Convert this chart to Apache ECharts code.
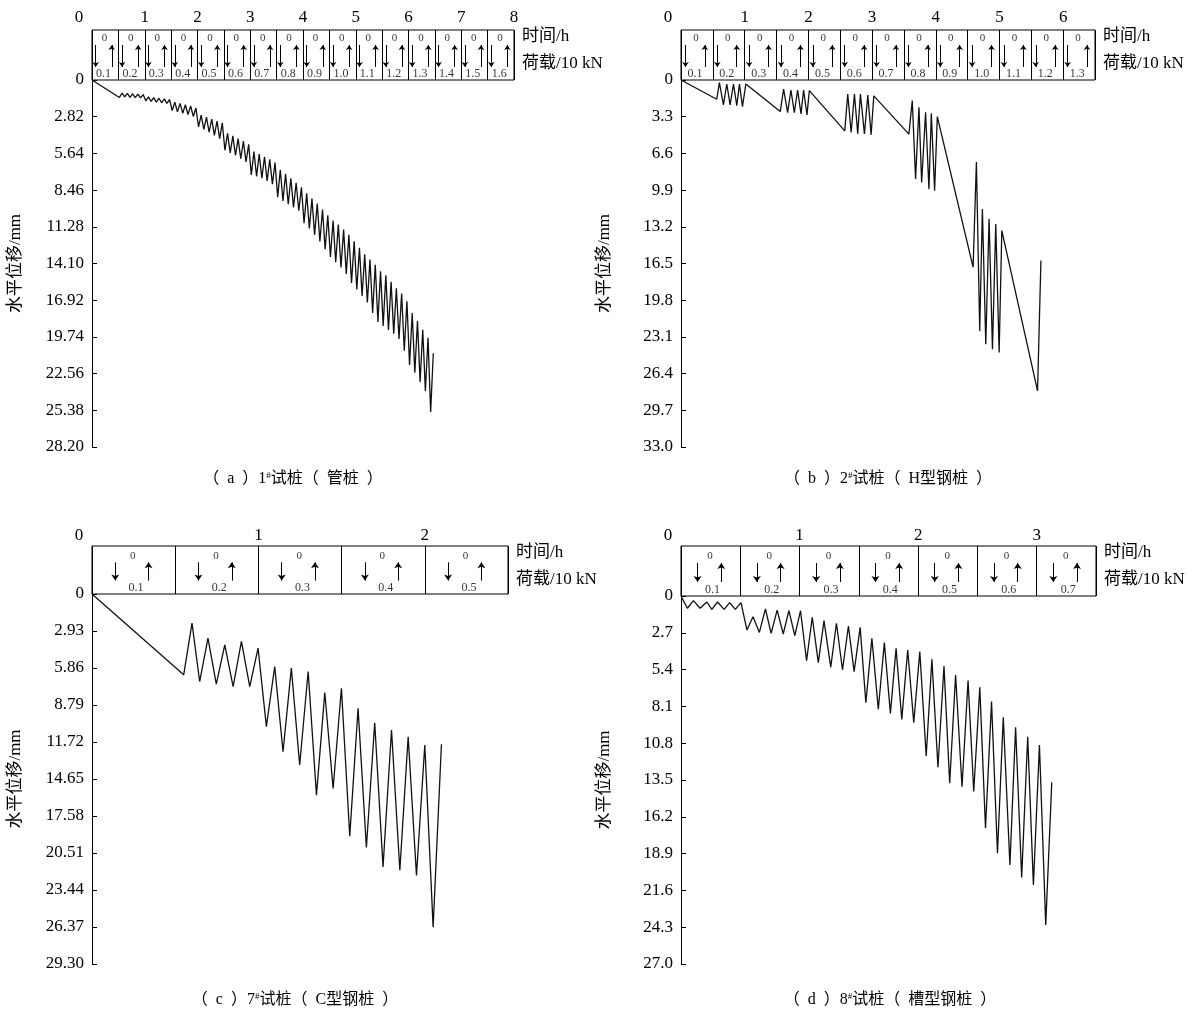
<!DOCTYPE html>
<html>
<head>
<meta charset="utf-8">
<script src="https://cdn.jsdelivr.net/npm/echarts@6/dist/echarts.min.js"></script>
<style>
html, body { margin: 0; padding: 0; background: #fff; }
#chart { width: 1204px; height: 1016px; }
</style>
</head>
<body>
<div id="chart"></div>
<script>
// (a) 1# 管桩
var timeA = [0,
    0.52, 0.57, 0.62, 0.67, 0.72, 0.77, 0.82, 0.87, 0.92, 0.97,
    1.02, 1.07, 1.12, 1.17, 1.22, 1.27, 1.32, 1.37, 1.42, 1.47,
    1.52, 1.57, 1.62, 1.67, 1.72, 1.77, 1.82, 1.87, 1.92, 1.97,
    2.02, 2.07, 2.12, 2.17, 2.22, 2.27, 2.32, 2.37, 2.42, 2.47,
    2.52, 2.57, 2.62, 2.67, 2.72, 2.77, 2.82, 2.87, 2.92, 2.97,
    3.02, 3.07, 3.12, 3.17, 3.22, 3.27, 3.32, 3.37, 3.42, 3.47,
    3.52, 3.57, 3.62, 3.67, 3.72, 3.77, 3.82, 3.87, 3.92, 3.97,
    4.02, 4.07, 4.12, 4.17, 4.22, 4.27, 4.32, 4.37, 4.42, 4.47,
    4.52, 4.57, 4.62, 4.67, 4.72, 4.77, 4.82, 4.87, 4.92, 4.97,
    5.02, 5.07, 5.12, 5.17, 5.22, 5.27, 5.32, 5.37, 5.42, 5.47,
    5.52, 5.57, 5.62, 5.67, 5.72, 5.77, 5.82, 5.87, 5.92, 5.97,
    6.02, 6.07, 6.12, 6.17, 6.22, 6.27, 6.32, 6.37, 6.42, 6.47];
var dispA = [0,
    1.34, 1.00, 1.30, 1.03, 1.33, 1.06, 1.36, 1.09, 1.38, 1.12,
    1.60, 1.30, 1.65, 1.35, 1.70, 1.40, 1.75, 1.45, 1.80, 1.50,
    2.35, 1.70, 2.45, 1.80, 2.55, 1.90, 2.65, 2.00, 2.80, 2.15,
    3.60, 2.70, 3.80, 2.85, 4.00, 3.00, 4.25, 3.15, 4.50, 3.30,
    5.40, 4.10, 5.60, 4.30, 5.80, 4.50, 6.05, 4.70, 6.30, 4.95,
    7.30, 5.50, 7.40, 5.70, 7.55, 5.90, 7.75, 6.10, 8.00, 6.35,
    9.00, 6.90, 9.30, 7.20, 9.55, 7.55, 9.80, 7.90, 10.05, 8.25,
    11.00, 8.70, 11.40, 9.10, 11.90, 9.50, 12.40, 9.95, 13.00, 10.40,
    13.60, 10.80, 14.00, 11.10, 14.40, 11.50, 14.90, 11.90, 15.60, 12.40,
    16.10, 12.90, 16.60, 13.40, 17.10, 13.80, 17.90, 14.20, 18.60, 14.70,
    18.90, 15.00, 19.20, 15.50, 19.50, 16.00, 19.90, 16.40, 20.80, 17.00,
    21.90, 17.90, 22.50, 18.50, 23.20, 19.20, 23.90, 19.80, 25.50, 21.00];
var loadsA = [0.1, 0.2, 0.3, 0.4, 0.5, 0.6, 0.7, 0.8, 0.9, 1.0, 1.1, 1.2, 1.3, 1.4, 1.5, 1.6];

// (b) 2# H型钢桩
var timeB = [0,
    0.561, 0.603, 0.666, 0.719, 0.771, 0.824, 0.876, 0.918, 0.965, 1.018,
    1.558, 1.611, 1.674, 1.726, 1.779, 1.831, 1.884, 1.925, 1.978, 2.015,
    2.571, 2.618, 2.671, 2.723, 2.775, 2.817, 2.880, 2.933, 2.985, 3.027,
    3.578, 3.631, 3.683, 3.736, 3.778, 3.840, 3.893, 3.930, 3.982, 4.024,
    4.586, 4.638, 4.690, 4.732, 4.785, 4.837, 4.890, 4.942, 4.995, 5.037,
    5.598, 5.651];
var dispB = [0,
    1.73, 0.24, 2.24, 0.36, 2.24, 0.36, 2.30, 0.36, 2.39, 0.36,
    2.84, 0.81, 2.93, 0.90, 2.93, 0.90, 3.05, 0.90, 3.14, 0.96,
    4.57, 1.26, 4.72, 1.26, 4.84, 1.26, 4.84, 1.35, 4.93, 1.43,
    4.87, 1.85, 8.91, 2.45, 9.21, 2.90, 9.81, 2.99, 9.96, 3.29,
    16.83, 7.38, 22.57, 11.60, 23.77, 12.47, 24.22, 12.94, 24.51, 13.54,
    27.95, 16.23];
var loadsB = [0.1, 0.2, 0.3, 0.4, 0.5, 0.6, 0.7, 0.8, 0.9, 1.0, 1.1, 1.2, 1.3];

// (c) 7# C型钢桩
var timeC = [0,
    0.551, 0.601, 0.647, 0.697, 0.747, 0.798, 0.848, 0.898, 0.948, 0.998,
    1.048, 1.098, 1.148, 1.198, 1.248, 1.299, 1.349, 1.399, 1.449, 1.499,
    1.549, 1.599, 1.649, 1.699, 1.749, 1.800, 1.850, 1.900, 1.950, 2.000,
    2.050, 2.100];
var dispC = [0,
    6.40, 2.30, 6.93, 3.49, 7.14, 4.02, 7.33, 3.76, 7.33, 4.29,
    10.50, 5.74, 12.49, 5.87, 13.54, 6.14, 15.93, 7.80, 15.40, 7.46,
    19.18, 9.05, 20.08, 10.19, 21.61, 10.77, 21.88, 11.30, 22.28, 11.96,
    26.38, 11.90];
var loadsC = [0.1, 0.2, 0.3, 0.4, 0.5];

// (d) 8# 槽型钢桩
var timeD = [0,
    0.054, 0.105, 0.161, 0.218, 0.260, 0.308, 0.364, 0.410, 0.458, 0.506,
    0.556, 0.607, 0.661, 0.712, 0.760, 0.811, 0.862, 0.910, 0.960, 1.008,
    1.059, 1.107, 1.158, 1.206, 1.263, 1.311, 1.362, 1.412, 1.460, 1.511,
    1.559, 1.610, 1.664, 1.715, 1.766, 1.814, 1.862, 1.912, 1.963, 2.014,
    2.068, 2.116, 2.167, 2.218, 2.266, 2.316, 2.370, 2.421, 2.469, 2.520,
    2.568, 2.619, 2.669, 2.718, 2.774, 2.822, 2.873, 2.924, 2.972, 3.023,
    3.076, 3.127];
var dispD = [0,
    0.90, 0.34, 0.90, 0.44, 0.98, 0.44, 0.98, 0.49, 0.98, 0.49,
    2.49, 1.52, 2.67, 0.95, 2.74, 1.03, 2.79, 1.08, 2.91, 1.08,
    4.74, 1.56, 4.89, 1.81, 5.23, 2.00, 5.43, 2.20, 5.55, 2.30,
    7.82, 3.11, 8.31, 3.42, 8.61, 3.84, 9.05, 3.96, 9.29, 4.08,
    11.74, 4.65, 12.57, 5.13, 13.74, 5.79, 13.99, 6.21, 14.35, 6.70,
    17.04, 7.75, 18.87, 8.90, 19.73, 9.63, 20.66, 10.32, 21.20, 10.93,
    24.13, 13.67];
var loadsD = [0.1, 0.2, 0.3, 0.4, 0.5, 0.6, 0.7];

var serif = '"Liberation Serif", "Noto Sans CJK SC", serif';
var cjk = '"Liberation Serif", "Noto Sans CJK SC", sans-serif';

// cell text layout (fractions of a cell / of the box height)
var narrowCell = {zero: 0.47, zeroY: 0.84, down: 0.14, up: 0.75, aBot: 0.26, aTop: 0.70, val: 0.44, valY: 0.13, zs: 11, vs: 12, ah: 5};
var wideCell = {zero: 0.49, zeroY: 0.79, down: 0.28, up: 0.68, aBot: 0.28, aTop: 0.66, val: 0.53, valY: 0.13, zs: 11, vs: 12, ah: 6};

var panels = [
    {gx: 92, top: 30, boxH: 50, w: 422, plotH: 367, tMax: 8, yMax: 28.2, yStep: 2.82, dec: 2, lm: 4,
        time: timeA, disp: dispA, loads: loadsA, cell: narrowCell, capX: 293, capY: 479, cap: '（  a  ）1{s|#}试桩（  管桩  ）'},
    {gx: 681, top: 30, boxH: 50, w: 414, plotH: 367, tMax: 6.5, yMax: 33, yStep: 3.3, dec: 1, lm: 4,
        time: timeB, disp: dispB, loads: loadsB, cell: narrowCell, capX: 888, capY: 479, cap: '（  b  ）2{s|#}试桩（  H型钢桩  ）'},
    {gx: 92, top: 546, boxH: 48, w: 416, plotH: 370, tMax: 2.5, yMax: 29.3, yStep: 2.93, dec: 2, lm: 2,
        time: timeC, disp: dispC, loads: loadsC, cell: wideCell, capX: 295, capY: 1000, cap: '（  c  ）7{s|#}试桩（  C型钢桩  ）'},
    {gx: 681, top: 546, boxH: 50, w: 415, plotH: 368, tMax: 3.5, yMax: 27, yStep: 2.7, dec: 1, lm: 2,
        time: timeD, disp: dispD, loads: loadsD, cell: wideCell, capX: 890, capY: 1000, cap: '（  d  ）8{s|#}试桩（  槽型钢桩  ）'}
];

var grid = [], xAxis = [], yAxis = [], series = [], graphic = [];

panels.forEach(function (p, i) {
    grid.push({left: p.gx, top: p.top, width: p.w, height: p.boxH, show: true,
        borderColor: '#000', borderWidth: 1, backgroundColor: 'transparent', outerBoundsMode: 'none'});
    grid.push({left: p.gx, top: p.top + p.boxH, width: p.w, height: p.plotH, outerBoundsMode: 'none'});

    // time axis on top of the load box
    xAxis.push({
        gridIndex: 2 * i, type: 'value', position: 'top', min: 0, max: p.tMax, interval: 1,
        axisLine: {show: false}, axisTick: {show: false}, splitLine: {show: false},
        axisLabel: {
            color: '#000', fontSize: 17, fontFamily: serif, margin: p.lm,
            showMaxLabel: p.tMax % 1 === 0,
            formatter: function (v) { return v === 0 ? '{z|0}' : String(v); },
            rich: {z: {color: '#000', fontSize: 17, fontFamily: serif, padding: [0, 26, 0, 0]}}
        }
    });
    // cell dividers
    xAxis.push({
        gridIndex: 2 * i, type: 'value', min: 0, max: p.tMax, interval: 0.5,
        axisLine: {show: false}, axisTick: {show: false}, axisLabel: {show: false},
        splitLine: {show: true, lineStyle: {color: '#000', width: 1}}
    });
    xAxis.push({gridIndex: 2 * i + 1, type: 'value', min: 0, max: p.tMax, show: false});

    yAxis.push({gridIndex: 2 * i, type: 'value', min: 0, max: 1, show: false});
    yAxis.push({
        gridIndex: 2 * i + 1, type: 'value', inverse: true, min: 0, max: p.yMax, interval: p.yStep,
        name: '水平位移/mm', nameLocation: 'middle', nameGap: 68,
        nameTextStyle: {color: '#000', fontSize: 17, fontFamily: cjk},
        axisLine: {show: true, lineStyle: {color: '#000', width: 1}},
        axisTick: {show: true, inside: true, length: 5, lineStyle: {color: '#000', width: 1}},
        splitLine: {show: false},
        axisLabel: {
            color: '#000', fontSize: 17, fontFamily: serif, margin: 8,
            formatter: function (v) { return v === 0 ? '0' : v.toFixed(p.dec); }
        }
    });

    series.push({
        type: 'line', xAxisIndex: 3 * i + 2, yAxisIndex: 2 * i + 1,
        data: p.time.map(function (t, k) { return [t, p.disp[k]]; }),
        symbol: 'none', silent: true,
        lineStyle: {color: '#111', width: 1.3}
    });

    var c = p.cell, zeros = [], vals = [], arrows = [];
    p.loads.forEach(function (l, k) {
        var x0 = k * 0.5;
        zeros.push({name: '0', value: [x0 + c.zero * 0.5, c.zeroY]});
        vals.push({name: l.toFixed(1), value: [x0 + c.val * 0.5, c.valY]});
        arrows.push({coords: [[x0 + c.down * 0.5, c.aTop], [x0 + c.down * 0.5, c.aBot]]});
        arrows.push({coords: [[x0 + c.up * 0.5, c.aBot], [x0 + c.up * 0.5, c.aTop]]});
    });
    [[zeros, c.zs], [vals, c.vs]].forEach(function (s) {
        series.push({
            type: 'scatter', xAxisIndex: 3 * i, yAxisIndex: 2 * i, data: s[0],
            symbolSize: 1, itemStyle: {color: 'rgba(0,0,0,0)'}, silent: true,
            label: {show: true, position: 'inside', formatter: '{b}', color: '#000',
                fontSize: s[1], fontFamily: serif}
        });
    });
    series.push({
        type: 'lines', coordinateSystem: 'cartesian2d', xAxisIndex: 3 * i, yAxisIndex: 2 * i,
        data: arrows, symbol: ['none', 'arrow'], symbolSize: c.ah, silent: true,
        lineStyle: {color: '#000', width: 1, opacity: 1, curveness: 0}
    });

    var tx = p.gx + p.w + 8;
    graphic.push({type: 'text', x: tx, y: p.top + 7,
        style: {text: '时间/h', fill: '#000', font: '17px ' + cjk, verticalAlign: 'middle'}});
    graphic.push({type: 'text', x: tx, y: p.top + 34,
        style: {text: '荷载/10 kN', fill: '#000', font: '17px ' + cjk, verticalAlign: 'middle'}});
    graphic.push({type: 'text', x: p.capX, y: p.capY,
        style: {text: p.cap, fill: '#000', font: '16px ' + cjk, align: 'center', verticalAlign: 'middle',
            rich: {s: {fontSize: 9, fontFamily: serif, verticalAlign: 'top', fill: '#000'}}}});
});

var myChart = echarts.init(document.getElementById('chart'));
myChart.setOption({
    backgroundColor: '#fff',
    animation: false,
    grid: grid,
    xAxis: xAxis,
    yAxis: yAxis,
    series: series,
    graphic: graphic
});
</script>
</body>
</html>
